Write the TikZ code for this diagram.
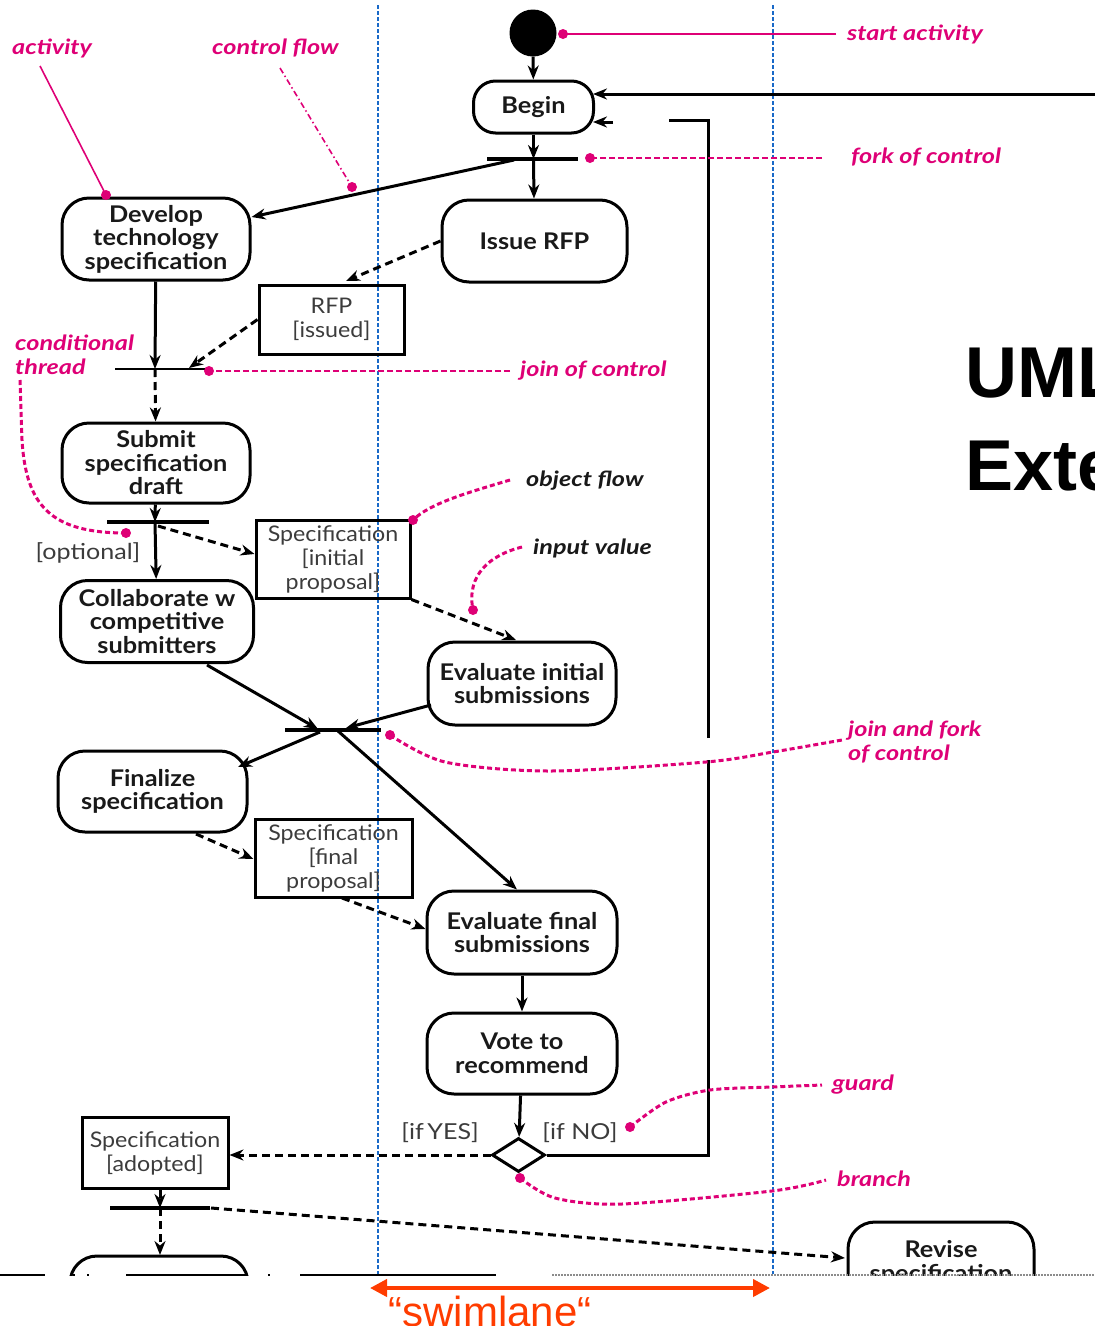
\documentclass[tikz,border=0pt]{standalone}
\usepackage{fontspec}
\setmainfont{Lato}
\newfontfamily\actfont[FakeStretch=1.1]{Lato}
\newfontfamily\objfont[FakeStretch=1.08]{Lato}
\newfontfamily\notefont[FakeStretch=1.2]{Lato}
\newfontfamily\guardfont[FakeStretch=1.14]{Lato}
\newfontfamily\arialfont{Liberation Sans}
\usetikzlibrary{arrows.meta,calc,shapes.geometric}

\definecolor{notepink}{RGB}{222,0,118}
\definecolor{laneblue}{RGB}{25,105,200}
\definecolor{labelgray}{RGB}{60,60,60}
\definecolor{inkdark}{RGB}{25,25,25}
\definecolor{swimred}{RGB}{255,60,0}

\tikzset{
  act/.style={draw, line width=3pt, rounded corners=27pt, align=center,
    font=\actfont\bfseries\fontsize{23}{23.5}\selectfont, text=inkdark, inner sep=0pt},
  obj/.style={draw, line width=3pt, align=center,
    font=\objfont\fontsize{21.5}{24}\selectfont, text=labelgray, inner sep=0pt},
  flow/.style={line width=3pt, -{Stealth[length=14pt,width=11pt]}},
  oflow/.style={flow, dash pattern=on 8pt off 5pt},
  syncbar/.style={line width=3.8pt},
  lane/.style={laneblue, line width=2.6pt, dash pattern=on 4pt off 2pt},
  noteline/.style={notepink, line width=1.6pt},
  notecurve/.style={notepink, line width=3pt, dash pattern=on 5pt off 3pt},
  notedot/.style={fill=notepink, circle, inner sep=0pt, minimum size=10pt},
  notetext/.style={font=\notefont\bfseries\itshape\fontsize{21}{24}\selectfont, text=notepink,
    anchor=west, align=left, inner sep=0pt},
  guardtext/.style={font=\guardfont\fontsize{22}{24}\selectfont, text=labelgray, inner sep=0pt},
}

\begin{document}
\begin{tikzpicture}[x=1pt,y=-1pt]
\path[use as bounding box] (0,0) rectangle (1095,1326);
\clip (0,0) rectangle (1095,1326);

% swimlane borders
\draw[lane] (378,5) -- (378,1274);
\draw[lane] (773,5) -- (773,1274);

% title
\node[anchor=base west, inner sep=0pt, font=\arialfont\bfseries\fontsize{72}{80}\selectfont] (title1) at (965,397) {UML};
\node[anchor=base west, inner sep=0pt, font=\arialfont\bfseries\fontsize{72}{80}\selectfont] (title2) at (965,490) {Exte};

% start
\node[circle, fill=black, minimum size=47pt, inner sep=0pt] (start) at (533,33) {};

% activities
\node[act, minimum width=120pt, minimum height=52pt, rounded corners=22pt] (begin) at (533.5,107) {Begin};
\node[act, minimum width=188pt, minimum height=82pt] (dev) at (156,239) {Develop\\technology\\specification};
\node[act, minimum width=185pt, minimum height=82pt] (issue) at (534.5,241) {Issue RFP};
\node[act, minimum width=188pt, minimum height=80pt] (submit) at (156,463) {Submit\\specification\\draft};
\node[act, minimum width=193pt, minimum height=82pt] (collab) at (157,621.5) {Collaborate w\\competitive\\submitters};
\node[act, minimum width=188pt, minimum height=83pt] (evali) at (522,683.5) {Evaluate initial\\submissions};
\node[act, minimum width=189pt, minimum height=81pt] (final) at (152.5,791.5) {Finalize\\specification};
\node[act, minimum width=190pt, minimum height=83pt] (evalf) at (522,932.5) {Evaluate final\\submissions};
\node[act, minimum width=190pt, minimum height=81pt] (vote) at (522,1053.5) {Vote to\\recommend};

% objects
\node[obj, minimum width=145pt, minimum height=69pt] (rfp) at (331.5,319.5) {RFP\\{[issued]}};
\node[obj, minimum width=154pt, minimum height=78pt] (specinit) at (333,559) {Specification\\{[initial}\\proposal{]}};
\node[obj, minimum width=157pt, minimum height=78pt] (specfinal) at (333.5,858) {Specification\\{[final}\\proposal{]}};
\node[obj, minimum width=146pt, minimum height=71pt] (specadopt) at (155,1153) {Specification\\{[adopted]}};

% branch
\node[diamond, draw, line width=3pt, minimum width=53pt, minimum height=34pt, inner sep=0pt] (branch) at (518.5,1155) {};

% synchronisation bars
\coordinate (f1a) at (487,159); \coordinate (f1b) at (578,159);
\coordinate (j1a) at (115,369); \coordinate (j1b) at (205,369);
\coordinate (f2a) at (107,522); \coordinate (f2b) at (209,522);
\coordinate (jfa) at (285,730); \coordinate (jfb) at (381,730);
\coordinate (f3a) at (110,1208); \coordinate (f3b) at (210,1208);
\draw[syncbar] (f1a) -- (f1b);
\draw[line width=2pt] (j1a) -- (j1b);
\draw[syncbar] (f2a) -- (f2b);
\draw[syncbar] (jfa) -- (jfb);
\draw[syncbar] (f3a) -- (f3b);

% control flow
\draw[flow] (start) -- (begin);
\draw[flow] (begin) -- (533.5,159);
\draw[flow] (533.5,159) -- (issue);
\draw[flow] (514,160) -- (dev.east |- 0,217) ;
\draw[flow] (dev) -- (155,369);
\draw[oflow] (155,369) -- (submit);
\draw[flow] (submit) -- (155,522);
\draw[flow] (155,522) -- (collab);
\draw[flow] (207,665) -- (318,729);
\draw[flow] (431,705) -- (346,728);
\draw[flow] (320,732) -- (238,767);
\draw[flow] (338,731) -- (evalf.north -| 517,0);
\draw[flow] (evalf) -- (vote);
\draw[flow] (vote) -- (branch);
\draw[line width=3pt] (branch.east) -- (708,1155) -- (708,1092);
\draw[line width=3pt] (708,1114) -- (708,760);
\draw[line width=3pt] (708,738) -- (708,120) -- (669,120);
\draw[flow] (613,122) -- (593,122);
\draw[flow] (1095,94) -- (593,94);

% object flow
\draw[oflow] (issue.west) -- (346,281);
\draw[oflow] (rfp.west) -- (189,368);
\draw[oflow] (158,526) -- (specinit.west |- 0,554);
\draw[oflow] (specinit.south east) -- (516,640);
\draw[oflow] (196,834) -- (specfinal.west |- 0,859);
\draw[oflow] (342,898) -- (evalf.west |- 0,929);
\draw[oflow] (branch.west) -- (specadopt.east |- 0,1155);
\draw[oflow] (specadopt.south -| 160,0) -- (160,1208);
\draw[oflow] (160,1208) -- (160,1255);

% partially visible activities at the lower edge
\begin{scope}
\clip (0,0) rectangle (1095,1275);
\node[act, minimum width=178pt, minimum height=82pt] (bottomact) at (159,1297) {};
\node[act, minimum width=186pt, minimum height=82pt] (revise) at (941,1263) {Revise\\specification};
\end{scope}
\draw[oflow] (211,1208) -- (845,1258);

% lower edge
\draw[line width=2pt] (0,1275) -- (45,1275);
\draw[line width=2pt] (126,1275) -- (248,1275);
\draw[line width=2pt] (300,1275) -- (496,1275);
\draw[line width=1.4pt] (73,1275) -- (75,1275) (87,1275) -- (89,1275) (268,1275) -- (270,1275);
\draw[black!45, line width=1.2pt, dash pattern=on 1.5pt off 1.5pt] (552,1275) -- (1095,1275);

% guards
\node[guardtext] (optional) at (88,553) {[optional]};
\node[guardtext] (ifyes) at (440,1133) {[if\,YES]};
\node[guardtext] (ifno) at (580,1133) {[if NO]};

% annotations
\node[notetext] (tstart) at (847,34) {start activity};
\draw[noteline] (836,34) -- (563,34);
\node[notedot] at (563,34) {};

\node[notetext] (tact) at (12,48) {activity};
\draw[noteline] (40,66) -- (106,195);
\node[notedot] at (106,195) {};

\node[notetext] (tctrl) at (212,48) {control flow};
\draw[noteline, dash pattern=on 6pt off 3pt on 1.5pt off 3pt] (280,68) -- (352,187);
\node[notedot] at (352,187) {};

\node[notetext] (tfork) at (851,157) {fork of control};
\draw[noteline, dash pattern=on 6pt off 3pt] (822,158) -- (590,158);
\node[notedot] at (590,158) {};

\node[notetext] (tjoin) at (520,371) {join of control};
\draw[noteline, dash pattern=on 6pt off 3pt] (510,371) -- (209,371);
\node[notedot] at (209,371) {};

\node[notetext] (tcond) at (15,355) {conditional\\thread};
\draw[notecurve] (20,380) -- (22,440) .. controls (26,505) and (50,533) .. (126,533);
\node[notedot] at (126,533) {};

\node[notetext, text=inkdark] (tobj) at (526,481) {object flow};
\draw[notecurve] (510,480) .. controls (470,492) and (430,503) .. (413,520);
\node[notedot] at (413,520) {};

\node[notetext, text=inkdark] (tin) at (533,548) {input value};
\draw[notecurve] (522,547) .. controls (490,555) and (466,575) .. (473,610);
\node[notedot] at (473,610) {};

\node[notetext] (tjf) at (848,742) {join and fork\\of control};
\draw[notecurve] plot[smooth] coordinates {(390,735) (445,762) (550,771) (706,762) (773,752) (842,740)};
\node[notedot] at (390,735) {};

\node[notetext] (tguard) at (832,1085) {guard};
\draw[notecurve] plot[smooth] coordinates {(630,1127) (666,1102) (710,1090) (772,1087) (822,1085)};
\node[notedot] at (630,1127) {};

\node[notetext] (tbranch) at (837,1179) {branch};
\draw[notecurve] plot[smooth] coordinates {(520,1178) (555,1198) (622,1204) (772,1191) (826,1180)};
\node[notedot] at (520,1178) {};

% swimlane marker
\coordinate (swl) at (370,1288);
\coordinate (swr) at (770,1288);
\draw[swimred, line width=4pt, {Triangle[length=17pt,width=17pt]}-{Triangle[length=17pt,width=17pt]}] (swl) -- (swr);
\node[anchor=base, inner sep=0pt, text=swimred, font=\arialfont\fontsize{42}{46}\selectfont] (swtext) at (490,1326) {“swimlane“};
\end{tikzpicture}
\end{document}
